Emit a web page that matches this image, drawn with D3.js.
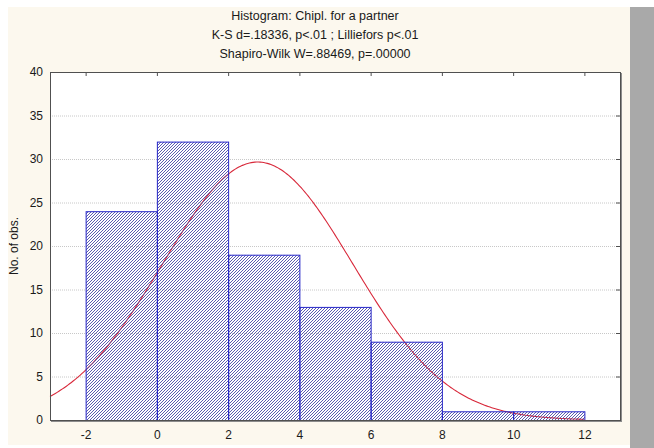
<!DOCTYPE html>
<html>
<head>
<meta charset="utf-8">
<script src="https://cdn.jsdelivr.net/npm/d3@7/dist/d3.min.js"></script>
<style>
  html, body { margin: 0; padding: 0; background: #ffffff; }
  svg { display: block; }
  text { font-family: "Liberation Sans", Arial, sans-serif; fill: #1a1a1a; }
</style>
</head>
<body>
<svg id="chart" width="654" height="448"></svg>
<script>
// Histogram of "Chipl. for a partner" with a fitted normal curve
const titleLines = [
  "Histogram: Chipl. for a partner",
  "K-S d=.18336, p<.01 ; Lilliefors p<.01",
  "Shapiro-Wilk W=.88469, p=.00000"
];
const binStarts = [-2, 0, 2, 4, 6, 8, 10];
const binWidth = 2;
const counts = [24, 32, 19, 13, 9, 1, 1];
const xTicks = [-2, 0, 2, 4, 6, 8, 10, 12];
const yTicks = [0, 5, 10, 15, 20, 25, 30, 35, 40];
const yLabel = "No. of obs.";
// normal fit parameters
const fitMean = 2.83;
const fitSd = 2.664;

const svg = d3.select("#chart");
const plot = { left: 50, top: 72, right: 620, bottom: 420 };

// page background and side panel
svg.append("rect").attr("x", 8).attr("y", 7).attr("width", 622).attr("height", 438).attr("fill", "#fcf8ee");
svg.append("rect").attr("x", 630).attr("y", 7).attr("width", 24).attr("height", 441).attr("fill", "#a9a9a9");

const x = d3.scaleLinear().domain([-3, 13]).range([plot.left, plot.right]);
const y = d3.scaleLinear().domain([0, 40]).range([plot.bottom, plot.top]);

// hatch pattern
const defs = svg.append("defs");
const pat = defs.append("pattern")
  .attr("id", "hatch").attr("patternUnits", "userSpaceOnUse")
  .attr("width", 3).attr("height", 3);
pat.append("path")
  .attr("d", "M-1,1 l2,-2 M0,3 l3,-3 M2,4 l2,-2")
  .attr("stroke", "#4a4aa6").attr("stroke-width", 0.9).attr("fill", "none");

// frame shadow and plot background
svg.append("rect")
  .attr("x", plot.left + 1).attr("y", plot.top + 1)
  .attr("width", plot.right - plot.left + 1).attr("height", plot.bottom - plot.top + 1)
  .attr("fill", "#8c8c8c");
svg.append("rect")
  .attr("x", plot.left).attr("y", plot.top)
  .attr("width", plot.right - plot.left).attr("height", plot.bottom - plot.top)
  .attr("fill", "#ffffff");

// gridlines
svg.append("g").selectAll("line")
  .data(yTicks.filter(d => d > 0 && d < 40))
  .join("line")
  .attr("x1", plot.left).attr("x2", plot.right)
  .attr("y1", d => y(d) + 0.5).attr("y2", d => y(d) + 0.5)
  .attr("stroke", "#c8c8c8").attr("stroke-dasharray", "1,1");

// fitted normal curve
const total = d3.sum(counts);
const density = v => total * binWidth * Math.exp(-0.5 * ((v - fitMean) / fitSd) ** 2) / (fitSd * Math.sqrt(2 * Math.PI));
const curveX = d3.range(-3, 12.0001, 0.05);
svg.append("path")
  .datum(curveX)
  .attr("fill", "none").attr("stroke", "#d8283a").attr("stroke-width", 1.1)
  .attr("d", d3.line().x(d => x(d)).y(d => y(density(d))));

// bars
svg.append("g").selectAll("rect")
  .data(binStarts.map((s, i) => ({ s, c: counts[i] })))
  .join("rect")
  .attr("x", d => x(d.s) + 0.5)
  .attr("y", d => y(d.c) + 0.5)
  .attr("width", d => x(d.s + binWidth) - x(d.s))
  .attr("height", d => y(0) - y(d.c))
  .attr("fill", "url(#hatch)")
  .attr("stroke", "#2626c8").attr("stroke-width", 1);

// frame
svg.append("rect")
  .attr("x", plot.left + 0.5).attr("y", plot.top + 0.5)
  .attr("width", plot.right - plot.left).attr("height", plot.bottom - plot.top)
  .attr("fill", "none").attr("stroke", "#505050").attr("stroke-width", 1);

// axes
const fmt = d => String(d);
const xAxis = svg.append("g").attr("transform", `translate(0,${plot.bottom})`)
  .call(d3.axisBottom(x).tickValues(xTicks).tickFormat(fmt).tickSize(0).tickPadding(10));
const yAxis = svg.append("g").attr("transform", `translate(${plot.left},0)`)
  .call(d3.axisLeft(y).tickValues(yTicks).tickFormat(fmt).tickSize(0).tickPadding(7));
[xAxis, yAxis].forEach(g => {
  g.select(".domain").remove();
  g.selectAll("text").attr("font-size", 12).attr("fill", "#1a1a1a")
    .style("font-family", "'Liberation Sans', Arial, sans-serif");
});

// inward ticks on top and right edges
svg.append("g").selectAll("line").data(xTicks).join("line")
  .attr("x1", d => x(d) + 0.5).attr("x2", d => x(d) + 0.5)
  .attr("y1", plot.top).attr("y2", plot.top + 4)
  .attr("stroke", "#505050");
svg.append("g").selectAll("line").data(yTicks).join("line")
  .attr("x1", plot.right - 4).attr("x2", plot.right)
  .attr("y1", d => y(d) + 0.5).attr("y2", d => y(d) + 0.5)
  .attr("stroke", "#505050");

// y label
svg.append("text")
  .attr("transform", `translate(18,${(plot.top + plot.bottom) / 2}) rotate(-90)`)
  .attr("text-anchor", "middle").attr("font-size", 12)
  .text(yLabel);

// title
svg.append("g").selectAll("text").data(titleLines).join("text")
  .attr("x", 315).attr("y", (d, i) => 20 + i * 19)
  .attr("text-anchor", "middle").attr("font-size", 12.5)
  .text(d => d);
</script>
</body>
</html>
